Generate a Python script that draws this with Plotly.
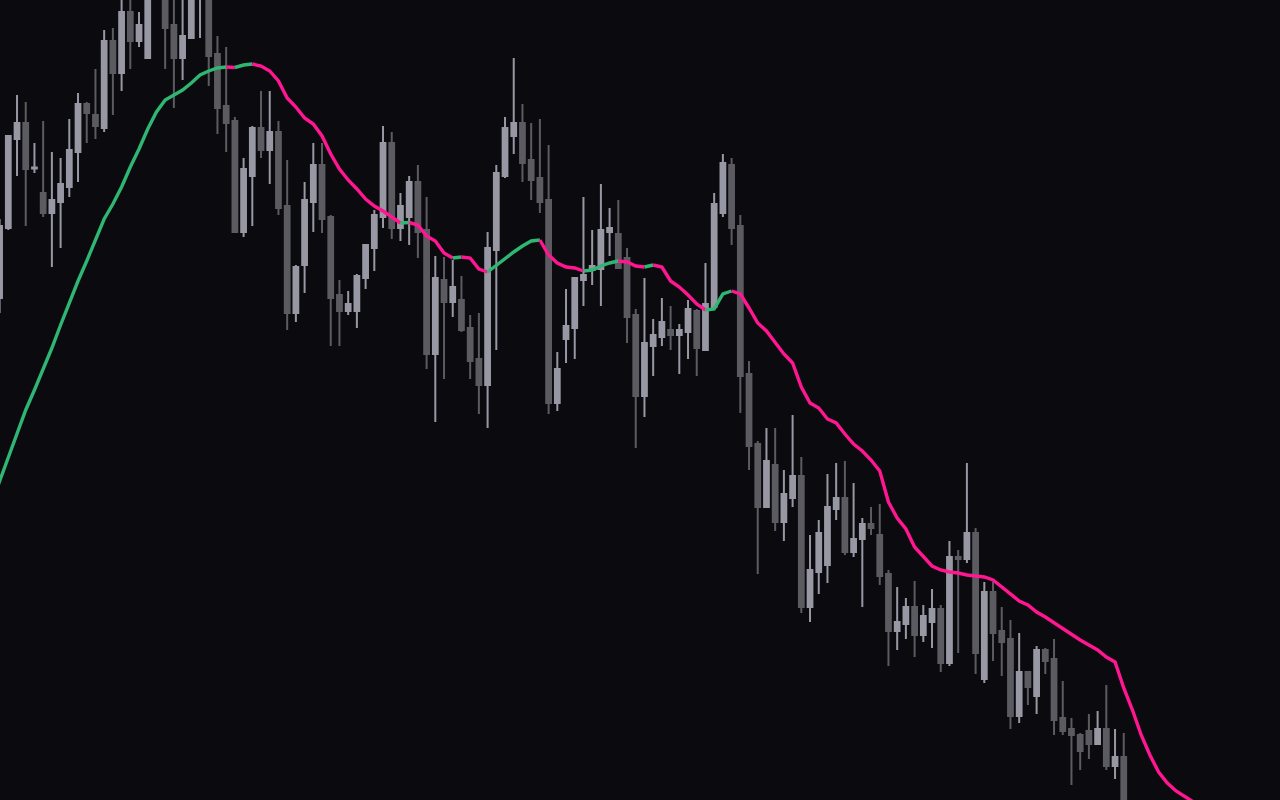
import plotly.graph_objects as go

# ---- data ----
candle_idx = list(range(-1, 137))

opens = [70.2, 77.2, 86.1, 87.7, 83.15, 80.7, 78.7, 79.8, 81.3, 84.8,
         89.6, 88.5, 87.2, 95.9, 92.7, 98.8, 95.9, 94.2, 100.3, 101.0,
         97.5, 94.2, 96.2, 100.5, 100.8, 94.6, 89.4, 87.9, 76.8, 82.4,
         87.2, 85.0, 86.8, 79.4, 68.7, 73.5, 79.8, 83.5, 78.3, 70.5,
         68.9, 68.9, 72.2, 75.2, 78.3, 85.7, 77.2, 78.3, 81.8, 77.0,
         64.6, 72.0, 69.8, 70.0, 67.2, 64.1, 61.5, 75.0, 82.4, 86.4,
         87.7, 84.0, 82.2, 80.0, 59.7, 66.1, 67.2, 72.0, 73.0, 73.1,
         76.8, 76.6, 74.2, 68.5, 60.4, 65.4, 66.3, 67.0, 66.5, 66.8,
         68.9, 65.0, 69.3, 78.7, 83.5, 77.4, 62.6, 55.6, 49.3, 53.5,
         47.8, 50.2, 52.4, 39.3, 42.8, 43.5, 49.1, 50.2, 44.8, 46.1,
         47.6, 46.5, 42.6, 36.9, 37.6, 39.3, 36.5, 37.8, 39.1, 33.7,
         44.3, 44.1, 46.7, 32.1, 40.8, 36.9, 36.1, 28.4, 32.8, 30.4,
         35.0, 34.1, 28.2, 27.1, 26.5, 26.9, 25.6, 27.1, 23.4, 24.3,
         16.0, 13.5, 11.2, 12.5, 8.6, 9.8, 6.4, 7.7]

highs = [78.1, 86.4, 90.5, 89.8, 85.7, 87.9, 84.8, 84.2, 88.1, 90.7,
         89.8, 93.1, 97.0, 97.2, 100.5, 100.5, 98.8, 100.8, 102.5, 101.5,
         100.3, 100.3, 101.0, 102.0, 101.2, 96.4, 95.3, 88.3, 84.2, 87.4,
         90.9, 90.9, 87.9, 84.0, 73.5, 81.8, 85.7, 85.7, 78.5, 72.0,
         70.9, 72.6, 75.5, 79.0, 87.4, 86.8, 80.7, 82.4, 83.5, 80.3,
         74.4, 74.3, 74.0, 72.4, 68.5, 68.7, 76.8, 83.5, 88.3, 94.2,
         89.6, 87.7, 88.1, 85.5, 64.8, 71.1, 72.2, 80.3, 77.0, 81.6,
         79.2, 80.0, 75.2, 69.1, 72.2, 68.1, 70.2, 69.4, 67.6, 70.0,
         69.1, 73.7, 80.7, 84.6, 84.2, 78.5, 63.9, 55.9, 57.2, 57.2,
         53.0, 58.5, 54.3, 46.5, 48.0, 52.6, 53.7, 53.9, 51.7, 48.2,
         49.3, 49.6, 43.0, 41.3, 40.2, 41.9, 39.5, 41.1, 39.5, 45.9,
         45.0, 53.7, 47.2, 41.8, 41.8, 39.3, 38.0, 36.7, 32.8, 35.4,
         35.2, 36.1, 31.9, 28.2, 26.7, 28.6, 28.9, 31.5, 27.1, 26.7,
         18.5, 15.0, 13.8, 13.0, 10.5, 11.0, 8.8, 8.5]

lows = [68.7, 77.0, 82.4, 77.4, 82.7, 78.3, 73.3, 75.2, 80.3, 81.8,
        85.7, 86.1, 86.8, 88.5, 90.9, 93.1, 95.3, 94.2, 100.1, 93.1,
        89.2, 92.0, 96.2, 96.2, 91.4, 86.6, 84.8, 76.8, 76.3, 77.4,
        84.2, 81.6, 78.5, 67.0, 67.8, 70.7, 76.8, 76.7, 65.4, 65.4,
        68.5, 67.2, 71.1, 72.9, 77.2, 76.1, 75.9, 75.5, 74.2, 63.1,
        57.8, 62.1, 68.3, 66.8, 62.1, 58.6, 57.2, 65.0, 82.2, 84.6,
        81.8, 80.0, 78.7, 58.6, 58.9, 63.7, 64.1, 69.4, 71.5, 69.4,
        74.4, 73.2, 65.7, 55.2, 58.3, 62.4, 65.4, 65.0, 62.6, 64.1,
        62.4, 65.0, 69.3, 78.3, 75.5, 58.7, 53.0, 42.6, 49.3, 46.9,
        45.9, 49.3, 38.7, 37.8, 40.6, 41.7, 48.0, 44.5, 44.3, 39.3,
        46.5, 41.5, 33.4, 35.0, 36.1, 34.3, 35.8, 35.2, 32.8, 33.4,
        34.7, 43.7, 32.6, 31.7, 33.9, 32.4, 27.1, 27.7, 29.5, 28.6,
        32.6, 26.5, 26.5, 21.5, 23.0, 24.1, 25.6, 23.0, 22.1, 14.0,
        12.0, 10.0, 9.0, 7.5, 6.0, 5.5, 4.0, 3.2]

closes = [77.4, 86.4, 87.7, 83.1, 83.25, 78.7, 80.0, 81.6, 85.0, 89.6,
          88.7, 87.4, 95.9, 92.7, 98.8, 95.9, 97.5, 100.3, 101.5, 97.2,
          94.2, 96.4, 100.5, 101.2, 94.4, 89.2, 87.7, 76.8, 83.1, 87.2,
          85.0, 86.8, 79.2, 68.7, 73.3, 80.0, 83.5, 78.1, 70.2, 68.9,
          69.6, 72.4, 75.5, 78.5, 85.7, 77.2, 79.4, 81.8, 76.8, 64.6,
          72.2, 69.8, 71.3, 67.0, 63.9, 61.5, 75.2, 82.7, 87.2, 87.7,
          83.7, 82.0, 79.8, 59.7, 63.1, 67.4, 72.2, 72.5, 73.4, 77.0,
          77.2, 73.2, 68.3, 60.4, 65.7, 66.5, 67.8, 66.5, 67.0, 69.1,
          65.2, 69.6, 79.6, 83.7, 77.2, 62.4, 55.4, 49.3, 53.9, 47.8,
          50.6, 52.4, 39.3, 43.0, 46.7, 49.3, 50.2, 44.8, 46.1, 47.6,
          47.2, 42.4, 36.9, 37.8, 39.3, 36.5, 38.4, 39.1, 33.7, 44.3,
          44.1, 46.7, 34.7, 40.8, 36.7, 35.8, 28.4, 32.8, 31.3, 35.0,
          33.9, 28.0, 26.9, 26.5, 24.9, 25.6, 27.1, 23.4, 24.3, 16.0,
          13.5, 11.2, 12.5, 8.6, 9.8, 6.4, 7.7, 4.1]

ma_idx = list(range(-2, 137))
ma_values = [49.5, 51.9, 54.4, 56.8, 59.0, 61.0, 63.0, 65.2, 67.5, 69.8,
             71.9, 73.9, 76.0, 78.1, 79.6, 81.3, 83.3, 85.1, 87.1, 88.8,
             90.0, 90.5, 91.0, 91.7, 92.5, 92.9, 93.2, 93.3, 93.25, 93.5,
             93.6, 93.4, 92.9, 91.9, 90.2, 89.3, 88.2, 87.6, 86.4, 84.6,
             83.1, 82.0, 81.1, 80.1, 79.4, 78.9, 78.3, 77.7, 77.75, 77.5,
             76.4, 75.9, 74.7, 74.2, 74.3, 74.2, 73.1, 72.8, 73.5, 74.2,
             74.8, 75.4, 75.9, 76.0, 74.5, 73.7, 73.3, 73.2, 72.9, 73.0,
             73.4, 73.7, 73.9, 73.8, 73.4, 73.3, 73.5, 73.3, 71.9, 71.3,
             70.5, 69.6, 69.0, 69.1, 70.6, 70.9, 70.6, 69.2, 67.7, 66.9,
             65.8, 64.6, 63.7, 61.3, 59.7, 59.2, 58.1, 57.7, 56.6, 55.6,
             54.9, 54.0, 52.9, 49.8, 48.2, 47.1, 45.3, 44.4, 43.4, 43.0,
             42.8, 42.7, 42.5, 42.4, 42.3, 42.0, 41.3, 40.5, 39.9, 39.5,
             38.8, 38.3, 37.7, 37.1, 36.5, 36.0, 35.5, 35.0, 34.3, 33.8,
             31.2, 29.0, 26.5, 24.5, 22.8, 21.7, 20.9, 20.3, 19.8]

BG = "#0a0a0f"
UP_CANDLE = "#9898a4"
DOWN_CANDLE = "#5b5b61"
MA_UP = "#2fb673"
MA_DOWN = "#ff1690"

fig = go.Figure()

fig.add_trace(go.Candlestick(
    x=candle_idx, open=opens, high=highs, low=lows, close=closes,
    increasing=dict(line=dict(color=UP_CANDLE, width=2), fillcolor=UP_CANDLE),
    decreasing=dict(line=dict(color=DOWN_CANDLE, width=2), fillcolor=DOWN_CANDLE),
    whiskerwidth=0, hoverinfo="skip", showlegend=False,
))

# colour the moving average by direction
seg_colors = [MA_UP if ma_values[k + 1] >= ma_values[k] else MA_DOWN
              for k in range(len(ma_values) - 1)]
start = 0
for k in range(1, len(seg_colors) + 1):
    if k == len(seg_colors) or seg_colors[k] != seg_colors[start]:
        xs = ma_idx[start:k + 1]
        ys = ma_values[start:k + 1]
        fig.add_trace(go.Scatter(
            x=xs, y=ys, mode="lines",
            line=dict(color=seg_colors[start], width=3.4),
            hoverinfo="skip", showlegend=False,
        ))
        start = k

fig.update_layout(
    width=1280, height=800,
    margin=dict(l=0, r=0, t=0, b=0),
    paper_bgcolor=BG, plot_bgcolor=BG,
    boxgap=0.22,
    showlegend=False,
    xaxis=dict(range=[-0.953, 145.93], visible=False, showgrid=False,
               zeroline=False, rangeslider=dict(visible=False), fixedrange=True),
    yaxis=dict(range=[20, 100], visible=False, showgrid=False,
               zeroline=False, fixedrange=True),
)

fig.write_html(
    "out.html",
    config={"displayModeBar": False},
    post_script=("document.body.style.margin='0';"
                 "document.body.style.overflow='hidden';"
                 "document.body.style.background='" + BG + "';"),
)
